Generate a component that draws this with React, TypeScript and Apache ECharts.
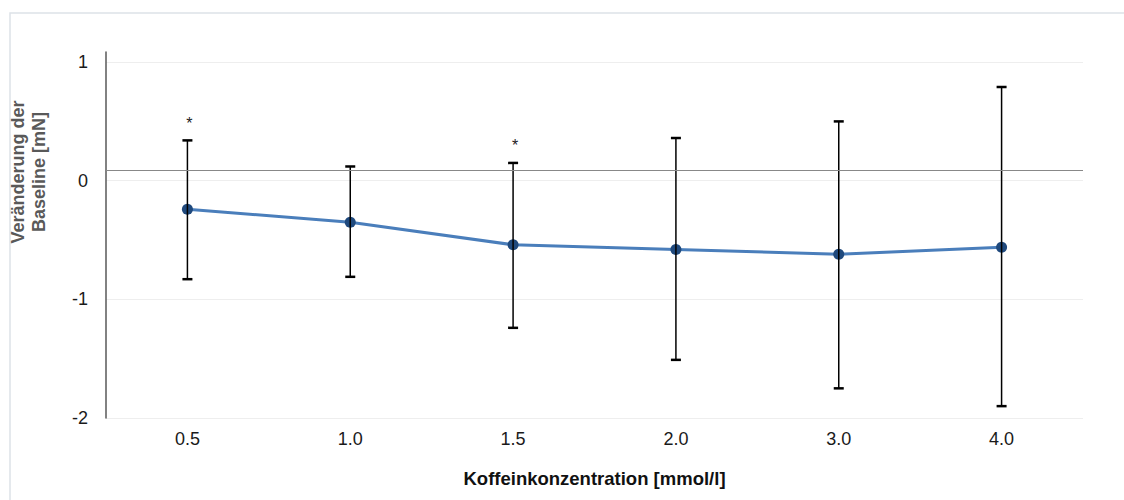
import React, { useEffect, useRef } from "react";
import * as echarts from "echarts";

const categories = ["0.5", "1.0", "1.5", "2.0", "3.0", "4.0"];
const meanValues = [-0.24, -0.35, -0.54, -0.58, -0.62, -0.56];
const upperValues = [0.34, 0.12, 0.15, 0.36, 0.5, 0.79];
const lowerValues = [-0.83, -0.81, -1.24, -1.51, -1.75, -1.9];
const significant = [true, false, true, false, false, false];
const referenceLine = 0.09;
const yTicks = [-2, -1, 0, 1];

const FONT = "'Liberation Sans', Arial, sans-serif";

export default function App() {
  const ref = useRef<HTMLDivElement>(null);
  useEffect(() => {
    if (!ref.current) return;
    const chart = echarts.init(ref.current, null, { renderer: "svg" });
    const errData = categories.map((_, i) => [i, lowerValues[i], upperValues[i], significant[i] ? 1 : 0]);
    chart.setOption({
      animation: false,
      backgroundColor: "#ffffff",
      textStyle: { fontFamily: FONT },
      grid: { left: 106, right: 41, top: 52, bottom: 82 },
      graphic: [
        {
          type: "rect",
          shape: { x: 10, y: 13, width: 1300, height: 700 },
          style: { fill: "none", stroke: "#dde2e8", lineWidth: 1.5 },
          silent: true,
        },
        {
          type: "text",
          x: 28,
          y: 172,
          rotation: Math.PI / 2,
          style: {
            text: "Veränderung der\nBaseline [mN]",
            fill: "#595959",
            font: `bold 18px ${FONT}`,
            align: "center",
            verticalAlign: "middle",
            lineHeight: 21,
          },
        },
      ],
      xAxis: {
        type: "category",
        data: categories,
        boundaryGap: true,
        axisLine: { show: false },
        axisTick: { show: false },
        axisLabel: { color: "#1a1a1a", fontSize: 18, margin: 12, fontFamily: FONT },
        name: "Koffeinkonzentration [mmol/l]",
        nameLocation: "middle",
        nameGap: 51,
        nameTextStyle: { color: "#111", fontSize: 18.5, fontWeight: "bold", fontFamily: FONT },
      },
      yAxis: {
        type: "value",
        min: -2,
        max: 1.085,
        interval: 1,
        axisLine: { show: true, lineStyle: { color: "#595959", width: 1.5 } },
        axisTick: { show: false },
        axisLabel: {
          color: "#1a1a1a",
          fontSize: 18,
          margin: 18,
          fontFamily: FONT,
          formatter: (v: number) => (yTicks.includes(Math.round(v * 1000) / 1000) ? String(v) : ""),
        },
        splitLine: {
          show: true,
          lineStyle: { color: ["#eeeeee", "#eeeeee", "#eeeeee", "#eeeeee", "rgba(0,0,0,0)"], width: 1 },
        },
      },
      series: [
        {
          type: "line",
          data: meanValues,
          symbol: "circle",
          symbolSize: 11,
          lineStyle: { color: "#4a7ebb", width: 3 },
          itemStyle: { color: "#1f497d" },
          z: 3,
          markLine: {
            silent: true,
            symbol: "none",
            label: { show: false },
            lineStyle: { color: "#888888", width: 1, type: "solid" },
            data: [{ yAxis: referenceLine }],
          },
        },
        {
          type: "custom",
          data: errData,
          z: 4,
          renderItem: (params: any, api: any) => {
            const x = api.coord([api.value(0), 0])[0];
            const lo = api.coord([api.value(0), api.value(1)])[1];
            const hi = api.coord([api.value(0), api.value(2)])[1];
            const cap = 5;
            const st = { stroke: "#000", lineWidth: 1.5 };
            const children: any[] = [
              { type: "line", shape: { x1: x, y1: hi, x2: x, y2: lo }, style: st },
              { type: "line", shape: { x1: x - cap, y1: hi, x2: x + cap, y2: hi }, style: { stroke: "#000", lineWidth: 2.5 } },
              { type: "line", shape: { x1: x - cap, y1: lo, x2: x + cap, y2: lo }, style: { stroke: "#000", lineWidth: 2.5 } },
            ];
            if (api.value(3)) {
              children.push({
                type: "text",
                x: x + 2,
                y: hi - 17,
                style: { text: "*", fill: "#222", font: `16px ${FONT}`, align: "center", verticalAlign: "middle" },
              });
            }
            return { type: "group", children };
          },
        },
      ],
    });
    return () => chart.dispose();
  }, []);
  return <div ref={ref} style={{ position: "absolute", left: 0, top: 0, width: 1124, height: 500 }} />;
}
